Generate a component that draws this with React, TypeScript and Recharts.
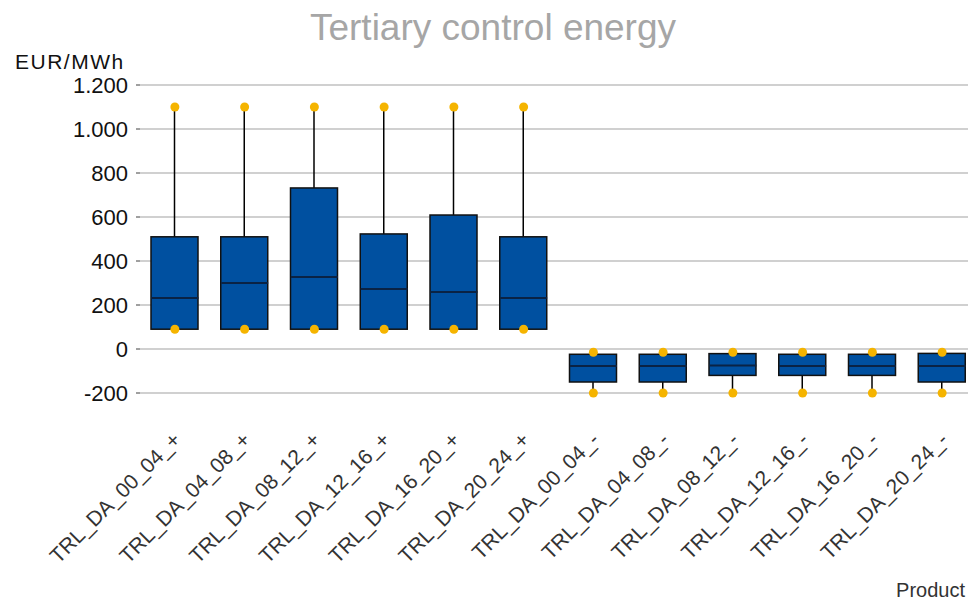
import React from 'react';
import { ComposedChart, Bar, Line, XAxis, YAxis, CartesianGrid } from 'recharts';

const categories = [
  'TRL_DA_00_04_+', 'TRL_DA_04_08_+', 'TRL_DA_08_12_+', 'TRL_DA_12_16_+', 'TRL_DA_16_20_+', 'TRL_DA_20_24_+',
  'TRL_DA_00_04_-', 'TRL_DA_04_08_-', 'TRL_DA_08_12_-', 'TRL_DA_12_16_-', 'TRL_DA_16_20_-', 'TRL_DA_20_24_-',
];
const minValues = [90, 90, 90, 90, 90, 90, -200, -200, -200, -200, -200, -200];
const q1Values = [90, 90, 90, 90, 90, 90, -150, -150, -120, -120, -120, -150];
const medianValues = [232, 300, 327, 273, 259, 232, -77, -77, -75, -77, -77, -77];
const q3Values = [510, 510, 732, 523, 609, 510, -24, -24, -21, -24, -24, -20];
const maxValues = [1100, 1100, 1100, 1100, 1100, 1100, -15, -15, -15, -15, -15, -15];
const yTicks = [-200, 0, 200, 400, 600, 800, 1000, 1200];

const data = categories.map((name, i) => ({
  name,
  whisker: [minValues[i], maxValues[i]],
  box: [q1Values[i], q3Values[i]],
  median: medianValues[i],
  min: minValues[i],
  max: maxValues[i],
}));

const FONT = '"Liberation Sans", Arial, sans-serif';
const BOX_W = 47;

const fmt = (v: number) => {
  const s = Math.abs(v).toString().replace(/\B(?=(\d{3})+(?!\d))/g, '.');
  return (v < 0 ? '-' : '') + s;
};

const WhiskerShape = (props: any) => {
  const { x, y, width, height } = props;
  const cx = x + width / 2;
  return <line x1={cx} x2={cx} y1={y} y2={y + height} stroke="#000" strokeWidth={1.5} />;
};

const BoxShape = (props: any) => {
  const { x, y, width, height } = props;
  return <rect x={x} y={y} width={width} height={Math.abs(height)} fill="#0050A0" stroke="#111" strokeWidth={1.5} />;
};

const MedianDot = (props: any) => {
  const { cx, cy, index } = props;
  return <line key={'m' + index} x1={cx - BOX_W / 2} x2={cx + BOX_W / 2} y1={cy} y2={cy} stroke="#0a2345" strokeWidth={2} />;
};

const OutlierDot = (props: any) => {
  const { cx, cy, index } = props;
  return <circle key={'d' + index + '-' + cy} cx={cx} cy={cy} r={4.5} fill="#F5B400" stroke="none" />;
};

const XTick = (props: any) => {
  const { x, y, payload } = props;
  const ax = x + 7;
  const ay = y + 40;
  return (
    <text x={ax} y={ay} textAnchor="end" transform={`rotate(-45, ${ax}, ${ay})`} fontFamily={FONT} fontSize={21} fill="#333">
      {payload.value}
    </text>
  );
};

export default function App() {
  return (
    <div style={{ position: 'absolute', left: 0, top: 0, width: 968, height: 600, overflow: 'hidden', background: '#fff' }}>
      <ComposedChart width={980} height={600} data={data} margin={{ top: 85, right: 3, bottom: 0, left: 0 }}>
        <CartesianGrid vertical={false} stroke="#c0c0c0" strokeWidth={1.5} />
        <XAxis xAxisId="main" dataKey="name" interval={0} tickLine={false} axisLine={false} height={207} tick={<XTick />} />
        <XAxis xAxisId="w" dataKey="name" hide />
        <YAxis
          domain={[-200, 1200]}
          ticks={yTicks}
          width={140}
          axisLine={false}
          tickSize={4}
          tickMargin={8}
          tickLine={{ stroke: '#404040' }}
          tickFormatter={fmt}
          tick={{ fontFamily: FONT, fontSize: 22, fill: '#111' }}
          interval={0}
        />
        <Bar xAxisId="w" dataKey="whisker" barSize={BOX_W} shape={<WhiskerShape />} isAnimationActive={false} />
        <Bar xAxisId="main" dataKey="box" barSize={BOX_W} shape={<BoxShape />} isAnimationActive={false} />
        <Line xAxisId="main" dataKey="median" stroke="none" dot={<MedianDot />} activeDot={false} isAnimationActive={false} />
        <Line xAxisId="main" dataKey="max" stroke="none" dot={<OutlierDot />} activeDot={false} isAnimationActive={false} />
        <Line xAxisId="main" dataKey="min" stroke="none" dot={<OutlierDot />} activeDot={false} isAnimationActive={false} />
      </ComposedChart>
      <svg width={968} height={600} style={{ position: 'absolute', left: 0, top: 0, pointerEvents: 'none' }}>
        <text x={493} y={40} textAnchor="middle" fontFamily={FONT} fontSize={37} fill="#a6a6a6">Tertiary control energy</text>
        <text x={15} y={69} fontFamily={FONT} fontSize={21} letterSpacing={1.5} fill="#111">EUR/MWh</text>
        <text x={965} y={597} textAnchor="end" fontFamily={FONT} fontSize={20} fill="#333">Product</text>
      </svg>
    </div>
  );
}
